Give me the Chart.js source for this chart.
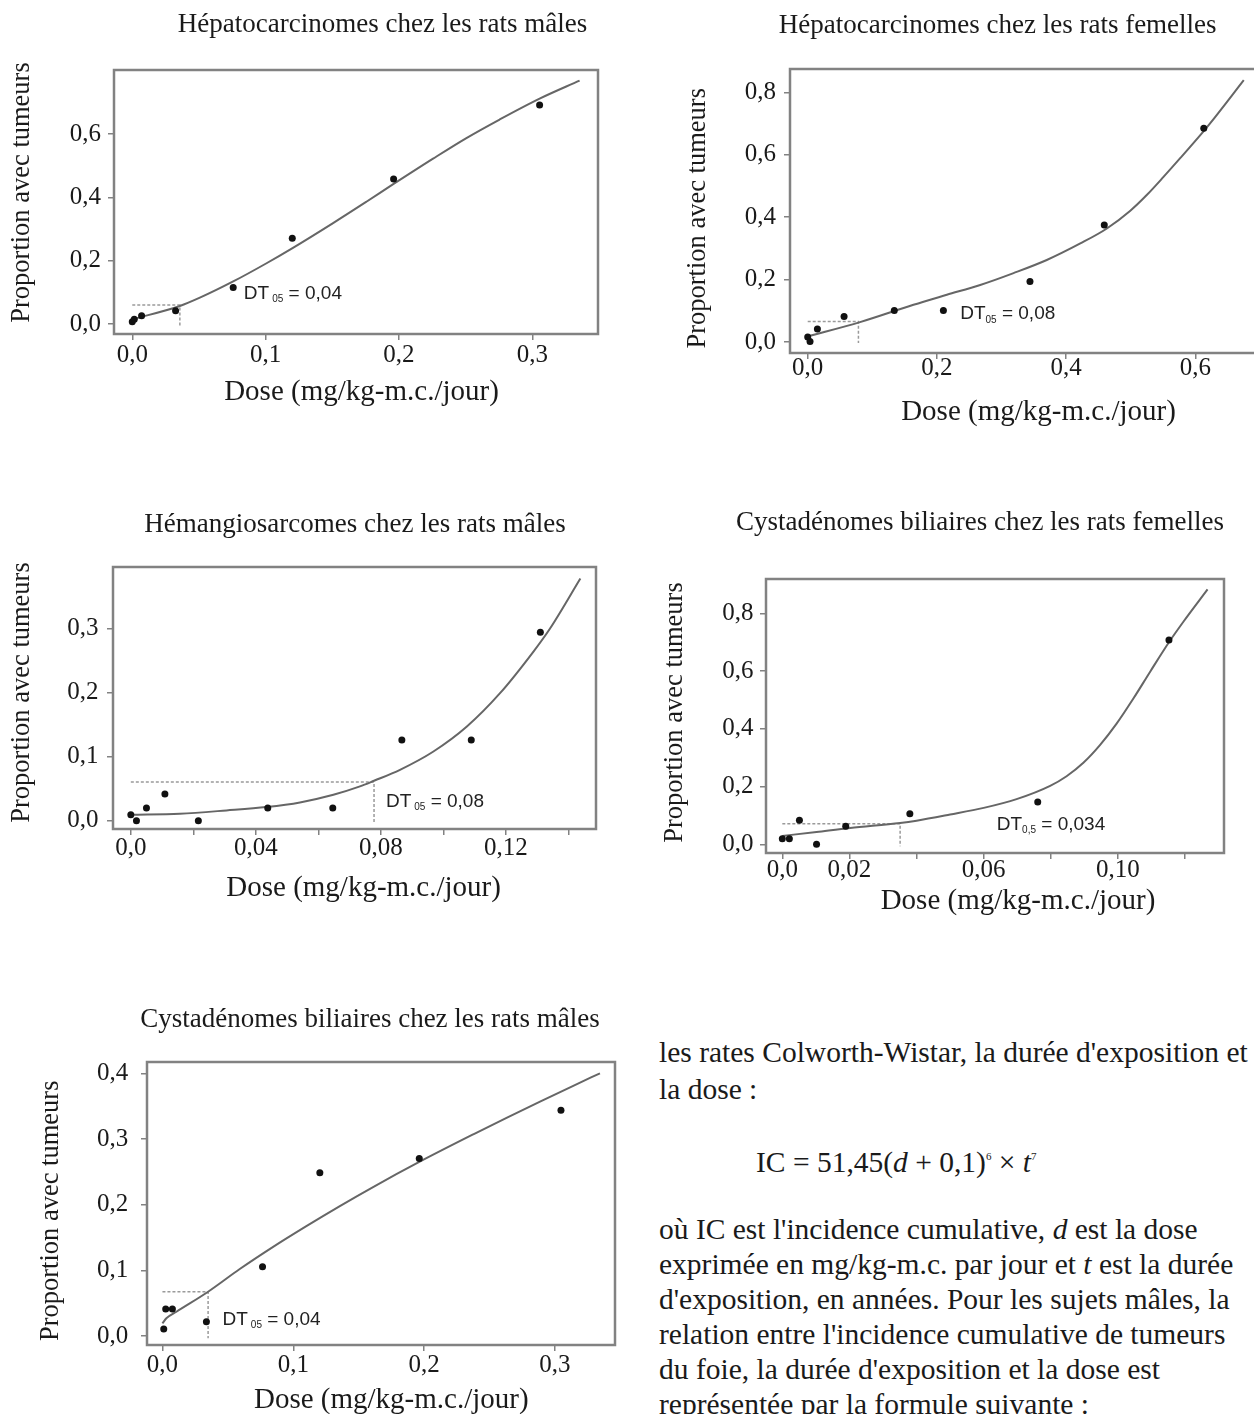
<!DOCTYPE html>
<html lang="fr">
<head>
<meta charset="utf-8">
<title>Proportion avec tumeurs selon la dose</title>
<script src="https://cdn.jsdelivr.net/npm/chart.js@4.4.1/dist/chart.umd.min.js"></script>
<style>
  html, body { margin: 0; padding: 0; background: #fff; }
  body { position: relative; width: 1254px; height: 1414px; overflow: hidden; }
  .panel { position: absolute; }
  .panel canvas { display: block; }
  .txt {
    position: absolute; left: 659px;
    font-family: "Liberation Serif", "Times New Roman", serif;
    font-size: 29.5px; line-height: 35px; color: #1a1a1a; white-space: nowrap;
  }
  .txt .up { font-size: 11px; position: relative; top: -12px; }
</style>
</head>
<body>

<div class="panel" id="p1"><canvas></canvas></div>
<div class="panel" id="p2"><canvas></canvas></div>
<div class="panel" id="p3"><canvas></canvas></div>
<div class="panel" id="p4"><canvas></canvas></div>
<div class="panel" id="p5"><canvas></canvas></div>

<div class="txt" style="top:1035px">les rates Colworth-Wistar, la durée d'exposition et</div>
<div class="txt" style="top:1072px">la dose :</div>
<div class="txt" style="top:1145px; left:756px">IC = 51,45(<i>d</i> + 0,1)<span class="up">6</span> × <i>t</i><span class="up">7</span></div>
<div class="txt" style="top:1212px">où IC est l'incidence cumulative, <i>d</i> est la dose</div>
<div class="txt" style="top:1247px">exprimée en mg/kg-m.c. par jour et <i>t</i> est la durée</div>
<div class="txt" style="top:1282px">d'exposition, en années. Pour les sujets mâles, la</div>
<div class="txt" style="top:1317px">relation entre l'incidence cumulative de tumeurs</div>
<div class="txt" style="top:1352px">du foie, la durée d'exposition et la dose est</div>
<div class="txt" style="top:1387px">représentée par la formule suivante :</div>

<script>
// Hépatocarcinomes chez les rats mâles
const hmDose = [0.000, 0.0015, 0.007, 0.0325, 0.0757, 0.120, 0.196, 0.3055];
const hmProp = [0.0074, 0.0147, 0.026, 0.042, 0.115, 0.2705, 0.458, 0.6916];
const hmFitDose = [0, 0.0357, 0.0507, 0.0757, 0.1007, 0.1202, 0.1506, 0.1756, 0.196, 0.2256, 0.2506, 0.2755, 0.3055, 0.3355];
const hmFitProp = [0.0147, 0.0568, 0.083, 0.1343, 0.1918, 0.2396, 0.3186, 0.3861, 0.4422, 0.5221, 0.5871, 0.6456, 0.7116, 0.7686];
const hmDtDose = [0, 0.0357, 0.0357];
const hmDtProp = [0.06, 0.06, -0.008];

// Hépatocarcinomes chez les rats femelles
const hfDose = [0, 0.0036, 0.015, 0.0563, 0.134, 0.210, 0.344, 0.459, 0.613];
const hfProp = [0.016, 0.002, 0.0416, 0.082, 0.101, 0.101, 0.194, 0.375, 0.685];
const hfFitDose = [0, 0.081, 0.1637, 0.2153, 0.267, 0.3186, 0.370, 0.4219, 0.463, 0.4993, 0.5251, 0.551, 0.5768, 0.6129, 0.6284, 0.6749];
const hfFitProp = [0.018, 0.064, 0.1195, 0.1515, 0.183, 0.221, 0.263, 0.316, 0.364, 0.421, 0.472, 0.530, 0.590, 0.676, 0.715, 0.839];
const hfDtDose = [0, 0.0785, 0.0785];
const hfDtProp = [0.066, 0.066, -0.003];

// Hémangiosarcomes chez les rats mâles
const haDose = [0, 0.0018, 0.005, 0.0109, 0.0216, 0.0438, 0.0646, 0.0867, 0.1089, 0.131];
const haProp = [0.0093, 0.0, 0.0197, 0.0415, 0.0, 0.0197, 0.0197, 0.126, 0.126, 0.294];
const haFitDose = [0, 0.0157, 0.0306, 0.0434, 0.0541, 0.0648, 0.0733, 0.0778, 0.0861, 0.0968, 0.1075, 0.1181, 0.1288, 0.1341, 0.1438];
const haFitProp = [0.0093, 0.0109, 0.016, 0.0213, 0.0285, 0.0405, 0.0535, 0.0623, 0.0794, 0.108, 0.147, 0.199, 0.264, 0.30, 0.378];
const haDtDose = [0, 0.0778, 0.0778];
const haDtProp = [0.0602, 0.0602, -0.004];

// Cystadénomes biliaires chez les rats femelles
const cfDose = [0, 0.0021, 0.0051, 0.0102, 0.0189, 0.038, 0.0761, 0.1152];
const cfProp = [0.0197, 0.0197, 0.083, 0.0, 0.0624, 0.106, 0.147, 0.7075];
const cfFitDose = [0, 0.0102, 0.0202, 0.0351, 0.04, 0.05, 0.06, 0.0698, 0.0798, 0.0847, 0.0897, 0.0947, 0.0996, 0.1046, 0.1096, 0.1152, 0.1195, 0.1267];
const cfFitProp = [0.029, 0.043, 0.057, 0.074, 0.082, 0.1033, 0.1263, 0.1567, 0.2027, 0.236, 0.2825, 0.3445, 0.418, 0.505, 0.598, 0.700, 0.771, 0.883];
const cfDtDose = [0, 0.0351, 0.0351];
const cfDtProp = [0.0717, 0.0717, -0.007];

// Cystadénomes biliaires chez les rats mâles
const cmDose = [0.001, 0.0025, 0.0076, 0.0336, 0.0765, 0.1203, 0.1963, 0.3046];
const cmProp = [0.0107, 0.041, 0.041, 0.0218, 0.1056, 0.249, 0.2706, 0.344];
const cmFitDose = [0, 0.003, 0.0107, 0.0349, 0.0591, 0.0846, 0.110, 0.1356, 0.161, 0.1963, 0.2376, 0.263, 0.2886, 0.314, 0.3344];
const cmFitProp = [0.0193, 0.027, 0.037, 0.0675, 0.1021, 0.1359, 0.1675, 0.1981, 0.2271, 0.2653, 0.3074, 0.3325, 0.3573, 0.3814, 0.4005];
const cmDtDose = [0, 0.0349, 0.0349];
const cmDtProp = [0.0675, 0.0675, -0.0036];

// tick values and labels
const ticksX1 = [0, 0.1, 0.2, 0.3];
const labelsX1 = ['0,0', '0,1', '0,2', '0,3'];
const ticksY1 = [0, 0.2, 0.4, 0.6];
const labelsY1 = ['0,0', '0,2', '0,4', '0,6'];
const ticksX2 = [0, 0.2, 0.4, 0.6];
const labelsX2 = ['0,0', '0,2', '0,4', '0,6'];
const ticksY2 = [0, 0.2, 0.4, 0.6, 0.8];
const labelsY2 = ['0,0', '0,2', '0,4', '0,6', '0,8'];
const ticksX3 = [0, 0.02, 0.04, 0.06, 0.08, 0.10, 0.12, 0.14];
const labelsX3 = ['0,0', '', '0,04', '', '0,08', '', '0,12', ''];
const ticksY3 = [0, 0.1, 0.2, 0.3];
const labelsY3 = ['0,0', '0,1', '0,2', '0,3'];
const ticksX4 = [0, 0.02, 0.04, 0.06, 0.08, 0.10, 0.12];
const labelsX4 = ['0,0', '0,02', '', '0,06', '', '0,10', ''];
const ticksY4 = [0, 0.2, 0.4, 0.6, 0.8];
const labelsY4 = ['0,0', '0,2', '0,4', '0,6', '0,8'];
const ticksX5 = [0, 0.1, 0.2, 0.3];
const labelsX5 = ['0,0', '0,1', '0,2', '0,3'];
const ticksY5 = [0, 0.1, 0.2, 0.3, 0.4];
const labelsY5 = ['0,0', '0,1', '0,2', '0,3', '0,4'];

const SERIF = '"Liberation Serif", "Times New Roman", serif';
const SANS = '"Liberation Sans", Arial, sans-serif';
const INK = '#1a1a1a';
const FRAME = '#828282';

const pts = (xs, ys) => xs.map((x, i) => ({ x: x, y: ys[i] }));

// draws the grey box round the plot area
const framePlugin = {
  id: 'frame',
  afterDatasetsDraw(chart) {
    const a = chart.chartArea;
    const ctx = chart.ctx;
    ctx.save();
    ctx.strokeStyle = FRAME;
    ctx.lineWidth = 2.5;
    ctx.strokeRect(a.left, a.top, a.right - a.left, a.bottom - a.top);
    ctx.restore();
  }
};

// titles, axis titles and the DT note
const textPlugin = {
  id: 'panelText',
  afterDraw(chart, args, o) {
    const ctx = chart.ctx;
    const ox = o.origin[0], oy = o.origin[1];
    ctx.save();
    ctx.fillStyle = INK;
    ctx.textAlign = 'center';
    ctx.textBaseline = 'middle';

    ctx.font = '27px ' + SERIF;
    ctx.fillText(o.title, o.titleAt[0] - ox, o.titleAt[1] - oy);

    ctx.font = '29px ' + SERIF;
    ctx.fillText('Dose (mg/kg-m.c./jour)', o.xTitleAt[0] - ox, o.xTitleAt[1] - oy);

    ctx.save();
    ctx.translate(o.yTitleAt[0] - ox, o.yTitleAt[1] - oy);
    ctx.rotate(-Math.PI / 2);
    ctx.font = '26.5px ' + SERIF;
    ctx.fillText('Proportion avec tumeurs', 0, 0);
    ctx.restore();

    // DT note, anchored in data units
    const n = o.note;
    let x = chart.scales.x.getPixelForValue(n.at[0]);
    const y = chart.scales.y.getPixelForValue(n.at[1]);
    ctx.textAlign = 'left';
    ctx.fillStyle = '#222';
    ctx.font = '19px ' + SANS;
    ctx.fillText('DT', x, y);
    x += ctx.measureText('DT').width + n.gap;
    ctx.font = '10px ' + SANS;
    ctx.fillText(n.sub, x, y + 6);
    x += ctx.measureText(n.sub).width;
    ctx.font = '19px ' + SANS;
    ctx.fillText(' = ' + n.value, x, y);
    ctx.restore();
  }
};

function buildPanel(p) {
  const f = p.frame;   // left, top, width, height of the canvas on the page
  const b = p.box;     // left, top, right, bottom of the plot box on the page
  const wrap = document.getElementById(p.id);
  wrap.style.left = f[0] + 'px';
  wrap.style.top = f[1] + 'px';
  const canvas = wrap.querySelector('canvas');
  canvas.width = f[2];
  canvas.height = f[3];

  const xAxisH = 40;
  const yAxisW = b[0] - f[0];
  const padTop = b[1] - f[1];
  const padRight = f[2] - (b[2] - f[0]);
  const padBottom = f[3] - xAxisH - (b[3] - f[1]);

  const tickFont = { family: SERIF, size: 25, lineHeight: 1 };

  return new Chart(canvas, {
    type: 'scatter',
    data: {
      datasets: [
        {
          data: pts(p.dose, p.prop),
          pointRadius: 3.5,
          pointBackgroundColor: '#111',
          pointBorderWidth: 0,
          showLine: false
        },
        {
          data: pts(p.fitDose, p.fitProp),
          showLine: true,
          pointRadius: 0,
          borderColor: '#666',
          borderWidth: 2,
          cubicInterpolationMode: 'monotone'
        },
        {
          data: pts(p.dtDose, p.dtProp),
          showLine: true,
          pointRadius: 0,
          borderColor: '#9a9a9a',
          borderWidth: 1.5,
          borderDash: [3, 2]
        }
      ]
    },
    options: {
      responsive: false,
      animation: false,
      events: [],
      layout: { padding: { left: 0, top: padTop, right: padRight, bottom: padBottom } },
      scales: {
        x: {
          type: 'linear',
          min: p.xRange[0],
          max: p.xRange[1],
          afterBuildTicks: s => { s.ticks = p.xTicks.map(v => ({ value: v })); },
          afterFit: s => { s.height = xAxisH; },
          ticks: {
            callback: (v, i) => p.xLabels[i],
            font: tickFont,
            color: INK,
            padding: p.xPad,
            maxRotation: 0,
            autoSkip: false
          },
          grid: { drawOnChartArea: false, drawTicks: true, tickLength: 6, color: FRAME, lineWidth: 1.5 },
          border: { display: false }
        },
        y: {
          type: 'linear',
          min: p.yRange[0],
          max: p.yRange[1],
          afterBuildTicks: s => { s.ticks = p.yTicks.map(v => ({ value: v })); },
          afterFit: s => { s.width = yAxisW; },
          ticks: {
            callback: (v, i) => p.yLabels[i],
            font: tickFont,
            color: INK,
            padding: p.yPad,
            autoSkip: false
          },
          grid: { drawOnChartArea: false, drawTicks: true, tickLength: 6, color: FRAME, lineWidth: 1.5 },
          border: { display: false }
        }
      },
      plugins: {
        legend: { display: false },
        tooltip: { enabled: false },
        panelText: {
          origin: [f[0], f[1]],
          title: p.title,
          titleAt: p.titleAt,
          xTitleAt: p.xTitleAt,
          yTitleAt: p.yTitleAt,
          note: p.note
        }
      }
    },
    plugins: [framePlugin, textPlugin]
  });
}

buildPanel({
  id: 'p1', frame: [0, 0, 627, 480], box: [114, 70, 598, 334],
  xRange: [-0.0137, 0.3493], yRange: [-0.0316, 0.802],
  dose: hmDose, prop: hmProp, fitDose: hmFitDose, fitProp: hmFitProp, dtDose: hmDtDose, dtProp: hmDtProp,
  xTicks: ticksX1, xLabels: labelsX1, yTicks: ticksY1, yLabels: labelsY1, xPad: 2.5, yPad: 7,
  title: 'Hépatocarcinomes chez les rats mâles',
  titleAt: [382.5, 25], xTitleAt: [361.5, 392], yTitleAt: [21.7, 192.5],
  note: { at: [0.0837, 0.097], sub: '05', value: '0,04', gap: 3 }
});

buildPanel({
  id: 'p2', frame: [627, 0, 650, 480], box: [790, 69, 1260, 353],
  xRange: [-0.0274, 0.70], yRange: [-0.035, 0.875],
  dose: hfDose, prop: hfProp, fitDose: hfFitDose, fitProp: hfFitProp, dtDose: hfDtDose, dtProp: hfDtProp,
  xTicks: ticksX2, xLabels: labelsX2, yTicks: ticksY2, yLabels: labelsY2, xPad: -3.5, yPad: 8,
  title: 'Hépatocarcinomes chez les rats femelles',
  titleAt: [997.7, 26], xTitleAt: [1038.5, 412], yTitleAt: [697.8, 218.3],
  note: { at: [0.236, 0.0907], sub: '05', value: '0,08', gap: 0 }
});

buildPanel({
  id: 'p3', frame: [0, 490, 627, 500], box: [113, 567, 596, 829],
  xRange: [-0.0057, 0.1488], yRange: [-0.013, 0.396],
  dose: haDose, prop: haProp, fitDose: haFitDose, fitProp: haFitProp, dtDose: haDtDose, dtProp: haDtProp,
  xTicks: ticksX3, xLabels: labelsX3, yTicks: ticksY3, yLabels: labelsY3, xPad: 0.5, yPad: 8.5,
  title: 'Hémangiosarcomes chez les rats mâles',
  titleAt: [355, 525], xTitleAt: [363.6, 888], yTitleAt: [21.7, 692.5],
  note: { at: [0.0816, 0.030], sub: '05', value: '0,08', gap: 3 }
});

buildPanel({
  id: 'p4', frame: [627, 490, 627, 500], box: [766, 579, 1224, 853],
  xRange: [-0.00486, 0.1316], yRange: [-0.030, 0.919],
  dose: cfDose, prop: cfProp, fitDose: cfFitDose, fitProp: cfFitProp, dtDose: cfDtDose, dtProp: cfDtProp,
  xTicks: ticksX4, xLabels: labelsX4, yTicks: ticksY4, yLabels: labelsY4, xPad: -1.2, yPad: 6.6,
  title: 'Cystadénomes biliaires chez les rats femelles',
  titleAt: [980, 523], xTitleAt: [1018, 901.7], yTitleAt: [674.6, 712.5],
  note: { at: [0.0639, 0.069], sub: '0,5', value: '0,034', gap: 0 }
});

buildPanel({
  id: 'p5', frame: [0, 990, 627, 424], box: [147, 1062, 615, 1345],
  xRange: [-0.0118, 0.3459], yRange: [-0.0137, 0.4177],
  dose: cmDose, prop: cmProp, fitDose: cmFitDose, fitProp: cmFitProp, dtDose: cmDtDose, dtProp: cmDtProp,
  xTicks: ticksX5, xLabels: labelsX5, yTicks: ticksY5, yLabels: labelsY5, xPad: 1.5, yPad: 12.8,
  title: 'Cystadénomes biliaires chez les rats mâles',
  titleAt: [370, 1020], xTitleAt: [391.3, 1400], yTitleAt: [51.4, 1210.8],
  note: { at: [0.0459, 0.0254], sub: '05', value: '0,04', gap: 3 }
});
</script>
</body>
</html>
